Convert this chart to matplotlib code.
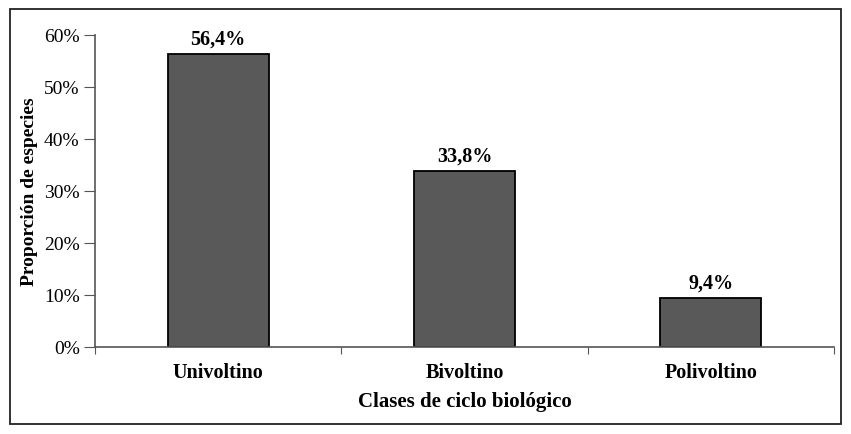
import matplotlib.pyplot as plt
from matplotlib.patches import Rectangle
from matplotlib.ticker import PercentFormatter

plt.rcParams['font.family'] = ['Liberation Serif', 'DejaVu Serif']

clases = ['Univoltino', 'Bivoltino', 'Polivoltino']
proporcion = [56.4, 33.8, 9.4]
etiquetas = ['56,4%', '33,8%', '9,4%']

W, H = 851, 435
fig = plt.figure(figsize=(W / 100, H / 100), dpi=100)
ax = fig.add_axes([95 / W, 1 - 347.5 / H, (834 - 95) / W, (347.5 - 36) / H])

# outer frame around the whole figure
fig.patches.append(Rectangle((10 / W, 1 - 425 / H), (841 - 10) / W, (425 - 10) / H,
                             transform=fig.transFigure, fill=False,
                             edgecolor='#222222', linewidth=1.3))

x = range(len(clases))
ax.bar(x, proporcion, width=0.41, color='#595959', edgecolor='black', linewidth=1.3)
for xi, v, t in zip(x, proporcion, etiquetas):
    ax.text(xi, v + 1.0, t, ha='center', va='bottom', fontsize=14.5, fontweight='bold')

ax.set_xlim(-0.5, len(clases) - 0.5)
ax.set_ylim(0, 60)
ax.set_yticks(range(0, 61, 10))
ax.yaxis.set_major_formatter(PercentFormatter(decimals=0))
ax.set_xticks([i - 0.5 for i in range(len(clases) + 1)])
ax.set_xticklabels([])
ax.set_xticks(list(x), minor=True)
ax.set_xticklabels(clases, minor=True, fontsize=14.5, fontweight='bold')
ax.tick_params(axis='x', which='minor', length=0, pad=11)
ax.tick_params(axis='x', which='major', length=5, color='#555555')
ax.tick_params(axis='y', length=8, color='#555555', labelsize=14, pad=3)

for s in ['top', 'right']:
    ax.spines[s].set_visible(False)
for s in ['left', 'bottom']:
    ax.spines[s].set_color('#555555')
    ax.spines[s].set_linewidth(1.2)

ax.set_xlabel('Clases de ciclo biológico', fontsize=15, fontweight='bold', labelpad=7)
ax.set_ylabel('Proporción de especies', fontsize=14, fontweight='bold', labelpad=4)

fig.savefig('out.png', dpi=100)
